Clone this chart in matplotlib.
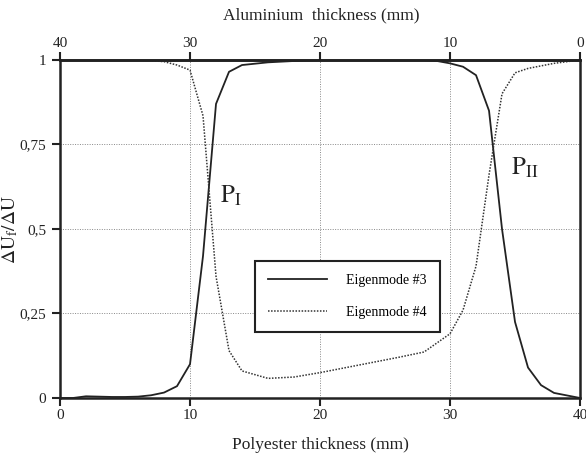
import matplotlib.pyplot as plt
import numpy as np

plt.rcParams['font.family'] = ['Liberation Serif', 'DejaVu Serif']
plt.rcParams['mathtext.fontset'] = 'stix'

# Polyester thickness (mm) and relative energy for each eigenmode
x_mode3 = [0, 1, 2, 3, 4, 5, 6, 7, 8, 9, 10, 11, 12, 13, 14, 16, 18, 20,
           22, 24, 26, 28, 29, 30, 31, 32, 33, 34, 35, 36, 37, 38, 40]
y_mode3 = [0, 0, 0.005, 0.004, 0.003, 0.003, 0.004, 0.008, 0.016, 0.035, 0.10,
           0.42, 0.87, 0.965, 0.985, 0.993, 0.997, 1.0, 1.0, 1.0, 1.0, 1.0,
           0.997, 0.99, 0.98, 0.955, 0.85, 0.50, 0.225, 0.09, 0.038, 0.015, 0]

x_mode4 = [0, 2, 4, 6, 7, 8, 9, 10, 11, 12, 13, 14, 16, 18, 20, 22, 24, 26,
           28, 30, 31, 32, 33, 34, 35, 36, 38, 40]
y_mode4 = [1, 1, 1, 1, 0.998, 0.995, 0.985, 0.97, 0.835, 0.36, 0.14, 0.08,
           0.058, 0.062, 0.075, 0.09, 0.105, 0.12, 0.136, 0.19, 0.26, 0.39,
           0.66, 0.90, 0.962, 0.975, 0.99, 1]

x_ticks = [0, 10, 20, 30, 40]
y_ticks = [0, 0.25, 0.5, 0.75, 1]
y_tick_labels = ['0', '0,25', '0,5', '0,75', '1']
top_ticks = [40, 30, 20, 10, 0]

fig = plt.figure(figsize=(5.86, 4.55), dpi=100)
ax = fig.add_axes([0.1024, 0.1253, 0.8874, 0.7429])

ax.plot(x_mode3, y_mode3, color='#222222', lw=1.3, label='Eigenmode #3')
ax.plot(x_mode4, y_mode4, color='#333333', lw=1.1, ls=(0, (1, 1)),
        label='Eigenmode #4')

ax.set_xlim(0, 40)
ax.set_ylim(0, 1)
ax.set_xticks(x_ticks)
ax.set_yticks(y_ticks)
ax.set_yticklabels(y_tick_labels)
ax.grid(True, color='#888888', ls=(0, (1, 1.5)), lw=0.7)

for s in ax.spines.values():
    s.set_linewidth(1.8)
    s.set_color('#222222')
ax.tick_params(direction='out', length=6, width=1.5, labelsize=11,
               colors='#222222', pad=2)
ax.tick_params(axis='y', pad=4)

# aluminium thickness runs the other way along the top
top = ax.secondary_xaxis('top', functions=(lambda v: 40 - v, lambda v: 40 - v))
top.set_xticks(top_ticks)
top.tick_params(direction='out', length=6, width=1.5, labelsize=11,
                colors='#222222', pad=1)
top.spines['top'].set_linewidth(1.8)
fig.text(321 / 586, 1 - 15 / 455, 'Aluminium  thickness (mm)', fontsize=12.5,
         ha='center', va='center', color='#222222')

ax.set_xlabel('Polyester thickness (mm)', fontsize=12.5, color='#222222')
ax.xaxis.set_label_coords(0.5, -0.115)
ax.set_ylabel(r'$\mathrm{\Delta U_f/\Delta U}$', fontsize=14, color='#222222')
ax.yaxis.set_label_coords(-0.077, 0.5)

ax.text(12.3, 0.58, r'$\mathrm{P_I}$', fontsize=18, color='#222222')
ax.text(34.7, 0.66, r'$\mathrm{P_{II}}$', fontsize=18, color='#222222')

leg = ax.legend(loc='center left', bbox_to_anchor=(0.375, 0.3), fontsize=10,
                frameon=True, fancybox=False, handlelength=4.2, handletextpad=1.4,
                labelspacing=1.4, borderpad=0.95, borderaxespad=0)
leg.get_frame().set_edgecolor('#222222')
leg.get_frame().set_linewidth(1.5)
leg.get_frame().set_alpha(1)

fig.savefig('out.png', dpi=100)
